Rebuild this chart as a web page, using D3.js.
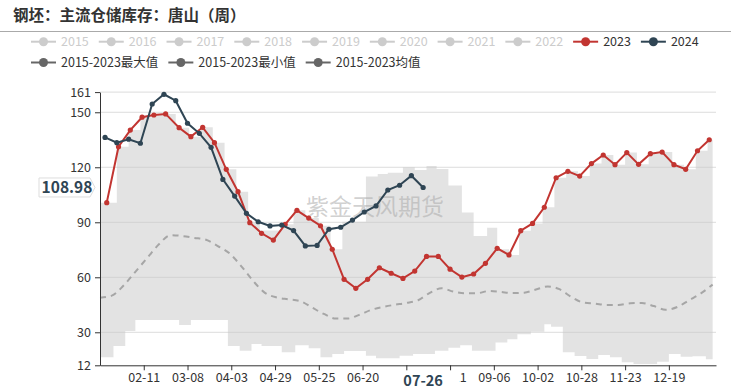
<!DOCTYPE html>
<html>
<head>
<meta charset="utf-8">
<script src="https://cdn.jsdelivr.net/npm/d3@7"></script>
<style>
  body { margin: 0; background: #fff; }
  svg { display: block; font-family: "Noto Sans CJK SC", "Noto Sans", sans-serif; }
</style>
</head>
<body>
<div id="viz-container"></div>
<script>
// weekly series, values
let start2023 = "2023-01-20";
let values2023 = [100.7, 131.2, 140.3, 147.3, 148.5, 149.1, 141.6, 136.7, 141.8, 133.4,
  118.9, 106.7, 89.8, 84.0, 80.3, 88.9, 96.5, 92.3, 88.1, 75.3,
  58.9, 54.0, 58.9, 65.2, 62.2, 59.4, 63.4, 71.4, 71.4, 64.4,
  60.1, 61.8, 67.6, 75.8, 72.2, 85.4, 89.4, 98.2, 114.3, 117.8,
  115.2, 122.0, 126.7, 121.4, 128.0, 121.6, 127.4, 128.3, 121.4, 118.9,
  129.0, 135.0];
let start2024 = "2024-01-19";
let values2024 = [136.3, 133.4, 135.3, 133.1, 154.5, 159.8, 156.3, 144.0, 138.5, 130.9,
  113.4, 104.3, 94.9, 90.3, 88.0, 88.5, 85.5, 77.1, 77.4, 86.2,
  87.3, 91.2, 95.6, 98.9, 107.6, 110.2, 115.4, 108.98];

// 2015-2023 max / min (step series)
let maxDates = ["01-16","01-26","02-02","02-09","02-16","02-23","03-01","03-09","03-16","03-23",
  "03-30","04-06","04-13","04-20","05-03","05-10","05-17","05-25","06-01","06-08",
  "06-22","06-29","07-05","07-14","07-21","07-28","08-03","08-10","08-18","08-25",
  "09-02","09-08","09-15","09-21","09-28","10-05","10-12","10-19","10-26","11-02",
  "11-09","11-16","11-23","11-30","12-07","12-14","12-21","12-28","01-04","01-11","01-14"];
let maxValues = [100.7, 131.2, 140.3, 147.3, 148.5, 149.1, 141.6, 136.7, 141.8, 133.4,
  118.9, 106.7, 89.8, 85.5, 88.9, 96.5, 92.3, 88.1, 75.3, 90.3,
  115, 116.3, 117, 120, 118.5, 120.7, 119, 110, 95.4, 82.5,
  87, 75.3, 72.2, 85.4, 89.4, 98.2, 114.3, 117.8, 115.2, 122,
  126.7, 121.4, 128, 121.6, 127.4, 128.3, 121.4, 118.9, 129, 135, 135];
let minDates = ["01-16","01-24","01-31","02-06","03-03","03-10","04-01","04-08","04-15","04-21",
  "05-03","05-11","05-19","05-26","06-02","06-09","06-22","06-28","07-12","07-20",
  "08-02","08-10","08-17","08-24","09-07","09-14","09-20","09-28","10-06","10-10",
  "10-17","10-24","10-31","11-07","11-14","11-21","11-28","12-12","12-19","12-26",
  "01-02","01-10","01-14"];
let minValues = [16.4, 22.5, 30.7, 36.7, 34, 36.7, 22.5, 20, 23.6, 22.5,
  19.1, 22.9, 21.3, 16.4, 18.2, 19.8, 17.2, 15.8, 17.2, 18.2,
  20, 21.6, 23, 20, 24.5, 26.2, 28.9, 30.3, 34.4, 33,
  19.1, 17.1, 15.4, 17.6, 16.4, 13.6, 12.7, 14, 18.2, 16.7,
  17, 15.3, 15.3];
// 2015-2023 mean, weekly from 01-16
let avgStart = "2024-01-16";
let avgValues = [48.9, 50, 55.5, 63, 70.5, 78, 83, 82.5, 81.5, 80.5,
  77, 73, 66, 58, 51.5, 49, 48, 47, 43.5, 40,
  37.5, 37.5, 39.5, 42.2, 43.8, 45, 46, 47.5, 51.5, 54,
  52.2, 51.3, 51.3, 52.5, 52, 51.4, 51.6, 53.3, 55, 53.5,
  49.3, 46.3, 45.7, 44.9, 44.9, 45.8, 46, 44.3, 42.3, 43.8,
  47.5, 51.2, 56];

let xTickLabels = ["02-11","03-08","04-03","04-29","05-25","06-20","07-16","08-11","09-06","10-02","10-28","11-23","12-19"];
let yTicks = [12, 30, 60, 90, 120, 150, 161];
let legendYears = ["2015","2016","2017","2018","2019","2020","2021","2022","2023","2024"];
let legendStats = ["2015-2023最大值","2015-2023最小值","2015-2023均值"];
let pointerDate = "07-26";
let pointerValue = "108.98";

let red = "#c23531";
let dark = "#2f4554";

let axisStart = new Date(2024, 0, 16);
let parseDay = d3.timeParse("%Y-%m-%d");
let fmt = d3.timeFormat("%m-%d");

// "MM-DD" -> date on the season axis that starts 01-16
function season(md){
  let p = md.split("-");
  let d = new Date(2024, +p[0] - 1, +p[1]);
  if (d < axisStart) d = new Date(2025, +p[0] - 1, +p[1]);
  return d;
}
function weekly(start, values){
  let s = parseDay(start);
  return values.map(function(v, i){
    return {date: season(fmt(d3.timeDay.offset(s, 7 * i))), value: v};
  });
}
function stepAt(dates, values, t){
  let v = values[0];
  for (let i = 0; i < dates.length; i++){
    if (dates[i] <= t) v = values[i];
  }
  return v;
}

let x = d3.scaleTime().domain([axisStart, new Date(2025, 0, 16)]).range([100, 716]);
let y = d3.scaleLinear().domain([12, 161]).range([365.3, 92.1]);

let viz = d3.select("#viz-container")
  .append("svg")
    .attr("width", 736)
    .attr("height", 391)
;

// title
viz.append("text")
  .text("钢坯：主流仓储库存：唐山（周）")
    .attr("x", 13)
    .attr("y", 21)
    .attr("font-size", 15.5)
    .attr("font-weight", "bold")
    .attr("fill", "#333")
;
viz.append("line")
  .attr("x1", 0).attr("x2", 731)
  .attr("y1", 31.5).attr("y2", 31.5)
  .attr("stroke", "#aaa")
  .attr("stroke-width", 1.2)
;

// grid
viz.append("g").selectAll("line").data(yTicks.filter(d => d > 12)).enter()
  .append("line")
    .attr("x1", 100).attr("x2", 716)
    .attr("y1", d => y(d)).attr("y2", d => y(d))
    .attr("stroke", "#dcdcdc")
;

// max/min band
let maxD = maxDates.map(season);
let minD = minDates.map(season);
let bandDates = Array.from(new Set(maxD.concat(minD).map(d => +d))).sort(d3.ascending).map(t => new Date(t));
let band = bandDates.map(function(t){
  return {date: t, hi: stepAt(maxD, maxValues, t), lo: stepAt(minD, minValues, t)};
});
viz.append("path")
  .datum(band)
  .attr("d", d3.area().curve(d3.curveStepAfter)
    .x(d => x(d.date)).y0(d => y(d.lo)).y1(d => y(d.hi)))
  .attr("fill", "#c8c8c8")
  .attr("fill-opacity", 0.5)
;

// watermark
viz.append("text")
  .text("紫金天风期货")
    .attr("x", 375)
    .attr("y", 215)
    .attr("text-anchor", "middle")
    .attr("font-size", 23)
    .attr("fill", "#aaa")
    .attr("fill-opacity", 0.55)
;

// mean
viz.append("path")
  .datum(weekly(avgStart, avgValues))
  .attr("d", d3.line().curve(d3.curveMonotoneX).x(d => x(d.date)).y(d => y(d.value)))
  .attr("fill", "none")
  .attr("stroke", "#a6a6a6")
  .attr("stroke-width", 2)
  .attr("stroke-dasharray", "6,5")
;

function drawSeries(data, color){
  let g = viz.append("g");
  g.append("path")
    .datum(data)
    .attr("d", d3.line().x(d => x(d.date)).y(d => y(d.value)))
    .attr("fill", "none")
    .attr("stroke", color)
    .attr("stroke-width", 2)
  ;
  g.selectAll("circle").data(data).enter()
    .append("circle")
      .attr("cx", d => x(d.date))
      .attr("cy", d => y(d.value))
      .attr("r", 2.6)
      .attr("fill", color)
  ;
}
drawSeries(weekly(start2023, values2023), red);
drawSeries(weekly(start2024, values2024), dark);

// axes
let yAxis = viz.append("g")
  .attr("transform", "translate(100,0)")
  .call(d3.axisLeft(y).tickValues(yTicks).tickSize(5).tickPadding(4).tickSizeOuter(0));
let xAxis = viz.append("g")
  .attr("transform", "translate(0,365.3)")
  .call(d3.axisBottom(x).tickValues(xTickLabels.map(season)).tickFormat(fmt).tickSize(5).tickPadding(3).tickSizeOuter(0));
[yAxis, xAxis].forEach(function(a){
  a.selectAll("path, line").attr("stroke", "#333");
  a.selectAll("text").attr("fill", "#333").attr("font-size", 12.5)
    .attr("font-family", "'Noto Sans CJK SC', sans-serif");
});

// axis pointer labels (they sit over the neighbouring tick labels, as in the original)
let px = x(season(pointerDate));
viz.append("rect")
  .attr("x", px - 34).attr("y", 371)
  .attr("width", 70).attr("height", 20)
  .attr("fill", "#fff")
;
viz.append("text")
  .text(pointerDate)
    .attr("x", px).attr("y", 386)
    .attr("text-anchor", "middle")
    .attr("font-size", 14.5)
    .attr("font-weight", "bold")
    .attr("fill", dark)
;
let py = y(+pointerValue);
viz.append("path")
  .attr("d", "M39," + (py - 9.5) + "H90L95," + py + "L90," + (py + 9.5) + "H39Z")
  .attr("fill", "#fff")
  .attr("stroke", "#ddd")
;
viz.append("text")
  .text(pointerValue)
    .attr("x", 67).attr("y", py + 5.5)
    .attr("text-anchor", "middle")
    .attr("font-size", 15.5)
    .attr("font-weight", "bold")
    .attr("fill", dark)
;

// legend
function legendRow(items, rowY, colorOf, textColorOf){
  let cx = 31;
  items.forEach(function(name){
    let g = viz.append("g").attr("transform", "translate(" + cx + "," + rowY + ")");
    g.append("line").attr("x1", 0).attr("x2", 25).attr("stroke", colorOf(name)).attr("stroke-width", 2);
    g.append("circle").attr("cx", 12.5).attr("r", 4.5).attr("fill", colorOf(name));
    let t = g.append("text")
      .text(name)
        .attr("x", 30)
        .attr("y", 4.5)
        .attr("font-size", 12.5)
        .attr("fill", textColorOf(name));
    cx += 30 + t.node().getComputedTextLength() + 10;
  });
}
legendRow(legendYears, 41.7,
  n => n == "2023" ? red : (n == "2024" ? dark : "#ccc"),
  n => (n == "2023" || n == "2024") ? "#333" : "#ccc");
legendRow(legendStats, 62.5, n => "#666", n => "#333");
</script>
</body>
</html>
